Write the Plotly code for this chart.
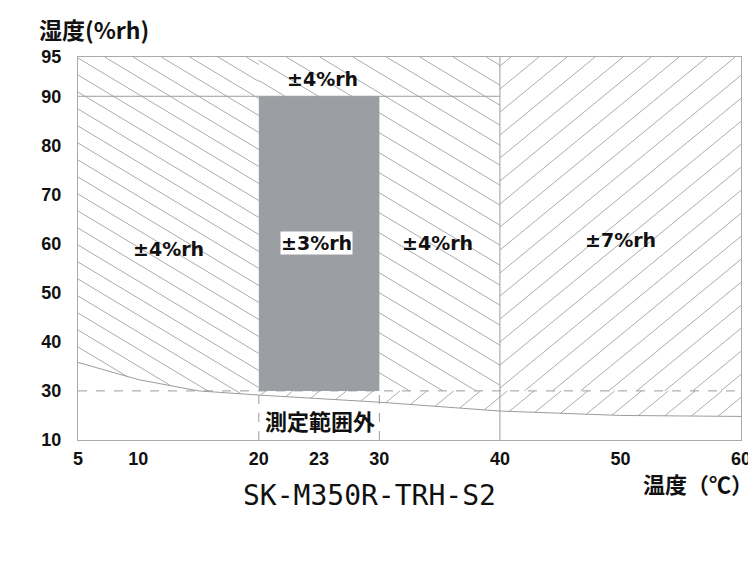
import numpy as np
import plotly.graph_objects as go

# 測定精度エリア (温度 ℃ / 湿度 %rh)
temp_range = [5, 60]
rh_range = [10, 95]
core_temp = [20, 30]        # ±3%rh
core_rh = [30, 90]
upper_rh = 90               # ±4%rh 上部の境界
wide_temp = 40              # ここから ±7%rh
min_rh = 30                 # 測定下限の目安 (破線)

# 下限カーブ
curve_temp = [5, 10, 15, 20, 30, 40, 50, 60]
curve_rh = [35.8, 32.3, 30.0, 28.3, 25.4, 21.8, 20.0, 19.6]

x_tick_pos = [5, 10, 20, 25, 30, 40, 50, 60]
x_tick_text = ["5", "10", "20", "23", "30", "40", "50", "60"]
y_tick_rh = [10, 30, 40, 50, 60, 70, 80, 90, 95]

label_text = ["±4%rh", "±3%rh", "±4%rh", "±7%rh", "±4%rh", "測定範囲外"]
label_temp = [12.5, 24.75, 34.8, 50.0, 25.3, 25.1]
label_rh = [59.0, 60.2, 60.2, 60.7, 92.2, 18.0]

# 縦軸は目盛の間隔が不均一なので区間ごとに変換する
RH_BREAK = [10, 30, 90, 95]
AX_BREAK = [20, 30, 90, 98]


def to_axis(rh):
    return np.interp(rh, RH_BREAK, AX_BREAK)


# ページの余白 8px 分を差し引いた大きさ
W, H = 748, 555
M = dict(l=70, r=15, t=49, b=123)
SX = (W - M["l"] - M["r"]) / (temp_range[1] - temp_range[0])
SY = (H - M["t"] - M["b"]) / (AX_BREAK[-1] - AX_BREAK[0])


def hatch(poly, slope, step, offset=0.0):
    # 凸多角形の中に斜線を引く (画素空間で角度を決める)
    pts = [((x - temp_range[0]) * SX, (y - AX_BREAK[0]) * SY) for x, y in poly]
    cs = [py - slope * px for px, py in pts]
    c = np.floor((min(cs) - offset) / step) * step + offset
    xs, ys = [], []
    while c <= max(cs):
        hits = []
        for i in range(len(pts)):
            (x1, y1), (x2, y2) = pts[i], pts[(i + 1) % len(pts)]
            f1 = y1 - slope * x1 - c
            f2 = y2 - slope * x2 - c
            if f1 != f2 and f1 * f2 <= 0:
                t = f1 / (f1 - f2)
                hits.append((x1 + t * (x2 - x1), y1 + t * (y2 - y1)))
        if len(hits) >= 2:
            hits.sort()
            for hx, hy in (hits[0], hits[-1]):
                xs.append(hx / SX + temp_range[0])
                ys.append(hy / SY + AX_BREAK[0])
            xs.append(None)
            ys.append(None)
        c += step
    return xs, ys


top = to_axis(rh_range[1])
bottom = to_axis(rh_range[0])
low = to_axis(min_rh)
cy = to_axis(curve_rh)
cx = curve_temp

left_poly = [(x, y) for x, y in zip(cx, cy) if x <= core_temp[0]]
left_poly += [(core_temp[0], top), (temp_range[0], top)]
mid_poly = [(core_temp[0], low), (wide_temp, low), (wide_temp, top), (core_temp[0], top)]
under_poly = [(x, y) for x, y in zip(cx, cy) if x >= core_temp[0]]
under_poly += [(temp_range[1], low), (core_temp[0], low)]
right_poly = [(wide_temp, low), (temp_range[1], low), (temp_range[1], top), (wide_temp, top)]

HATCH = "#a3a3a3"
GUIDE = "#9c9c9c"

fig = go.Figure()
for poly, slope, step, off in [
    (left_poly, -0.6, 17, 8),
    (mid_poly, -0.6, 20, 8),
    (under_poly, 0.82, 22, 5),
    (right_poly, 0.82, 23, 5),
]:
    hx, hy = hatch(poly, slope, step, off)
    fig.add_trace(go.Scatter(x=hx, y=hy, mode="lines",
                             line=dict(color=HATCH, width=0.9),
                             hoverinfo="skip", showlegend=False))

fig.add_trace(go.Scatter(x=cx, y=cy, mode="lines",
                         line=dict(color=GUIDE, width=1),
                         hoverinfo="skip", showlegend=False))

# ±3%rh エリア
fig.add_shape(type="rect", x0=core_temp[0], x1=core_temp[1],
              y0=to_axis(core_rh[0]), y1=to_axis(core_rh[1]),
              fillcolor="#9b9ea2", line=dict(width=0))
fig.add_shape(type="line", x0=temp_range[0], x1=wide_temp,
              y0=to_axis(upper_rh), y1=to_axis(upper_rh),
              line=dict(color=GUIDE, width=1))
fig.add_shape(type="line", x0=wide_temp, x1=wide_temp, y0=bottom, y1=top,
              line=dict(color=GUIDE, width=1))
fig.add_shape(type="line", x0=temp_range[0], x1=temp_range[1], y0=low, y1=low,
              line=dict(color=GUIDE, width=1, dash="dash"))
for t in core_temp:
    fig.add_shape(type="line", x0=t, x1=t, y0=bottom, y1=low,
                  line=dict(color=GUIDE, width=1, dash="dash"))

for txt, xt, yr in zip(label_text, label_temp, label_rh):
    jp = txt == "測定範囲外"
    fig.add_annotation(
        x=xt, y=to_axis(yr), text=txt, showarrow=False,
        font=dict(family="Noto Sans CJK JP" if jp else "DejaVu Sans",
                  size=22 if jp else 19, color="#111111",
                  weight="bold" if not jp else 600),
        bgcolor="white" if txt == "±3%rh" else None,
        borderpad=0,
    )

fig.add_annotation(xref="paper", yref="paper", x=-0.062, y=1.072,
                   xanchor="left", yanchor="middle", text="湿度(%rh)",
                   showarrow=False,
                   font=dict(family="Noto Sans CJK JP", size=23, color="#111111",
                             weight="bold"))
fig.add_annotation(xref="paper", yref="paper", x=0.849, y=-0.112,
                   xanchor="left", yanchor="middle", text="温度（℃）",
                   showarrow=False,
                   font=dict(family="Noto Sans CJK JP", size=22, color="#111111",
                             weight="bold"))
fig.add_annotation(xref="paper", yref="paper", x=0.439, y=-0.146,
                   xanchor="center", yanchor="middle", text="SK-M350R-TRH-S2",
                   showarrow=False,
                   font=dict(family="DejaVu Sans Mono", size=28, color="#111111"))

tick_font = dict(family="Liberation Sans", size=18, color="#111111", weight="bold")
fig.update_xaxes(range=temp_range, tickvals=x_tick_pos, ticktext=x_tick_text,
                 showgrid=False, zeroline=False, showline=True, mirror=True,
                 linecolor="#aaaaaa", linewidth=1, ticks="", tickfont=tick_font,
                 automargin=False, ticklabelstandoff=2)
fig.update_yaxes(range=[bottom, top], tickvals=list(to_axis(y_tick_rh)),
                 ticktext=[str(v) for v in y_tick_rh],
                 showgrid=False, zeroline=False, showline=True, mirror=True,
                 linecolor="#aaaaaa", linewidth=1, ticks="", tickfont=tick_font,
                 automargin=False, ticklabelstandoff=12)
fig.update_layout(width=W, height=H, margin=M, plot_bgcolor="white",
                  paper_bgcolor="white", showlegend=False)

fig.write_html("out.html")
